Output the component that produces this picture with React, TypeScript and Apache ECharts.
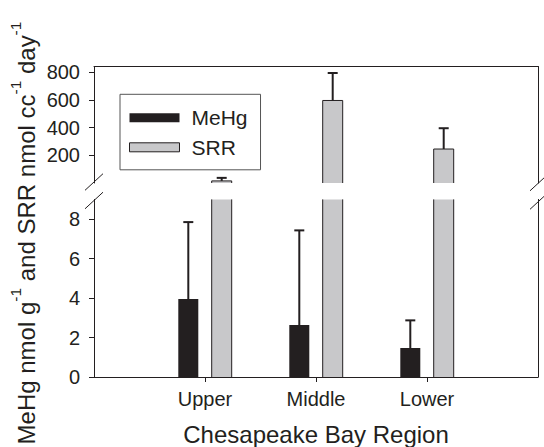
import React, { useEffect, useRef } from 'react';
import * as echarts from 'echarts';

const categories = ['Upper', 'Middle', 'Lower'];
const categoryPositions = [1, 2, 3];
const mehgMean = [3.95, 2.63, 1.47];
const mehgSd = [3.9, 4.8, 1.4];
const srrMean = [15, 595, 245];
const srrSd = [22, 198, 150];
const upperTicks = [200, 400, 600, 800];
const lowerTicks = [0, 2, 4, 6, 8];

const FONT = '"Liberation Sans", Arial, Helvetica, sans-serif';
const INK = '#231f20';
const GRAY = '#c8c8ca';

export default function App() {
  const ref = useRef<HTMLDivElement>(null);
  useEffect(() => {
    const chart = echarts.init(ref.current!, null, { renderer: 'svg' });
    const BAR_W = 20;
    const OFF = 16.7;
    const CAP = 10;
    const render = (offset: number, fill: string, outline: boolean) => (params: any, api: any) => {
      const cs = params.coordSys;
      const xv = api.value(0);
      const v = api.value(1);
      const sd = api.value(2);
      const base = api.coord([xv, 0]);
      const top = api.coord([xv, v]);
      const err = api.coord([xv, v + sd]);
      const cx = base[0] + offset;
      const l = cx - BAR_W / 2;
      const r = cx + BAR_W / 2;
      const clipped = top[1] < cs.y;
      const yTop = clipped ? cs.y : top[1];
      const children: any[] = [
        { type: 'rect', shape: { x: l, y: yTop, width: BAR_W, height: base[1] - yTop }, style: { fill } },
      ];
      const ls = { stroke: INK, lineWidth: 1, fill: null };
      if (outline) {
        if (clipped) {
          children.push({ type: 'line', shape: { x1: l, y1: base[1], x2: l, y2: yTop }, style: ls });
          children.push({ type: 'line', shape: { x1: r, y1: base[1], x2: r, y2: yTop }, style: ls });
        } else {
          children.push({ type: 'polyline', shape: { points: [[l, base[1]], [l, yTop], [r, yTop], [r, base[1]]] }, style: ls });
        }
      }
      if (!clipped && err[1] >= cs.y) {
        const es = { stroke: INK, lineWidth: 2, fill: null };
        children.push({ type: 'line', shape: { x1: cx, y1: top[1], x2: cx, y2: err[1] }, style: es });
        children.push({ type: 'line', shape: { x1: cx - CAP / 2, y1: err[1], x2: cx + CAP / 2, y2: err[1] }, style: es });
      }
      return { type: 'group', children };
    };

    const mehgData = categories.map((_, i) => [categoryPositions[i], mehgMean[i], mehgSd[i]]);
    const srrData = categories.map((_, i) => [categoryPositions[i], srrMean[i], srrSd[i]]);

    const axisLine = { show: true, onZero: false, lineStyle: { color: INK, width: 1 } };
    const tickStyle = { color: INK, width: 1 };
    const labelBase = { fontSize: 20, color: INK, fontFamily: FONT };

    const breakStyle = { stroke: INK, lineWidth: 1 };

    chart.setOption({
      animation: false,
      textStyle: { fontFamily: FONT },
      grid: [
        { left: 94, right: 6, top: 66.5, height: 116.5 },
        { left: 94, right: 6, top: 199.4, height: 178.9 },
      ],
      legend: {
        orient: 'vertical',
        left: 120,
        top: 94.3,
        data: [
          { name: 'MeHg', itemStyle: { color: INK } },
          { name: 'SRR', itemStyle: { color: GRAY, borderColor: INK, borderWidth: 1 } },
        ],
        icon: 'rect',
        itemWidth: 50,
        itemHeight: 9,
        itemGap: 8.5,
        padding: [13, 13, 12, 9],
        borderColor: '#555',
        borderWidth: 1,
        backgroundColor: '#fff',
        selectedMode: false,
        textStyle: { fontSize: 21, color: INK, fontFamily: FONT, lineHeight: 18, padding: [0, 0, 0, 7] },
      },
      xAxis: [
        {
          gridIndex: 0, type: 'value', min: 0, max: 4, position: 'top',
          axisLine, axisTick: { show: false }, axisLabel: { show: false }, splitLine: { show: false },
        },
        {
          gridIndex: 1, type: 'value', min: 0, max: 4, position: 'bottom',
          axisLine,
          axisTick: { show: true, length: 5, customValues: categoryPositions, lineStyle: tickStyle },
          axisLabel: { ...labelBase, customValues: categoryPositions, margin: 12, formatter: (v: number) => categories[Math.round(v) - 1] ?? '' },
          splitLine: { show: false },
          name: 'Chesapeake Bay Region', nameLocation: 'middle', nameGap: 45,
          nameTextStyle: { fontSize: 24, color: INK, fontFamily: FONT },
        },
      ],
      yAxis: [
        {
          gridIndex: 0, type: 'value', min: 0, max: 840, position: 'left',
          axisLine,
          axisTick: { show: true, length: 5, customValues: upperTicks, lineStyle: tickStyle },
          axisLabel: { ...labelBase, customValues: upperTicks, margin: 14 },
          splitLine: { show: false },
        },
        {
          gridIndex: 0, type: 'value', min: 0, max: 840, position: 'right',
          axisLine, axisTick: { show: false }, axisLabel: { show: false }, splitLine: { show: false },
        },
        {
          gridIndex: 1, type: 'value', min: 0, max: 9, position: 'left',
          axisLine,
          axisTick: { show: true, length: 5, customValues: lowerTicks, lineStyle: tickStyle },
          axisLabel: { ...labelBase, customValues: lowerTicks, margin: 14 },
          splitLine: { show: false },
        },
        {
          gridIndex: 1, type: 'value', min: 0, max: 9, position: 'right',
          axisLine, axisTick: { show: false }, axisLabel: { show: false }, splitLine: { show: false },
        },
      ],
      series: [
        {
          type: 'custom', name: 'SRR', xAxisIndex: 0, yAxisIndex: 0, data: srrData,
          encode: { x: 0, y: 1 }, itemStyle: { color: GRAY }, renderItem: render(OFF, GRAY, true), clip: false,
        },
        {
          type: 'custom', name: 'MeHg', xAxisIndex: 1, yAxisIndex: 2, data: mehgData,
          encode: { x: 0, y: 1 }, itemStyle: { color: INK }, renderItem: render(-OFF, INK, false), clip: false,
        },
        {
          type: 'custom', name: 'SRR', xAxisIndex: 1, yAxisIndex: 2, data: srrData,
          encode: { x: 0, y: 1 }, itemStyle: { color: GRAY }, renderItem: render(OFF, GRAY, true), clip: false,
        },
      ],
      graphic: [
        { type: 'line', shape: { x1: 85, y1: 190.3, x2: 103, y2: 173.7 }, style: breakStyle },
        { type: 'line', shape: { x1: 85, y1: 208.8, x2: 103, y2: 192.2 }, style: breakStyle },
        { type: 'line', shape: { x1: 530, y1: 190.8, x2: 544, y2: 177.9 }, style: breakStyle },
        { type: 'line', shape: { x1: 530, y1: 209.3, x2: 544, y2: 196.4 }, style: breakStyle },
        {
          type: 'text', x: 26, y: 233, rotation: Math.PI / 2,
          style: {
            text: '{m|MeHg nmol g}{s|-1}{m| and SRR nmol cc}{s|-1}{m| day}{s|-1}',
            align: 'center', verticalAlign: 'middle', fill: INK,
            rich: {
              m: { fontSize: 24, fontFamily: FONT, fill: INK, lineHeight: 38 },
              s: { fontSize: 15.5, fontFamily: FONT, fill: INK, lineHeight: 15.5, verticalAlign: 'top' },
            },
          },
        },
      ],
    });
    return () => chart.dispose();
  }, []);
  return <div ref={ref} style={{ position: 'absolute', left: 0, top: 0, width: 544, height: 447 }} />;
}
